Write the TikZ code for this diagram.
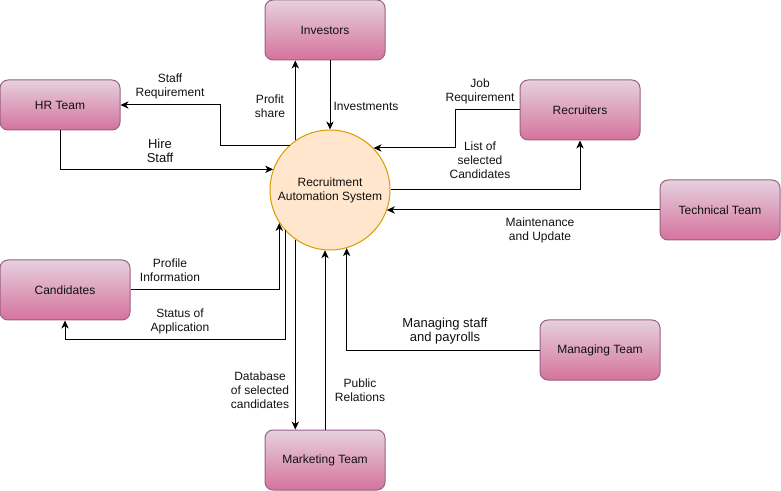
\documentclass[tikz,border=0pt]{standalone}
\usepackage{fontspec}
\setmainfont{Liberation Sans}
\usetikzlibrary{arrows.meta}
\definecolor{boxfill}{HTML}{E6D0DE}
\definecolor{boxgrad}{HTML}{D5739D}
\definecolor{boxline}{HTML}{996185}
\definecolor{sysfill}{HTML}{FFE6CC}
\definecolor{sysline}{HTML}{D79B00}
\definecolor{txt}{HTML}{111111}
\begin{document}
\begin{tikzpicture}[x=0.75pt,y=-0.75pt,
  ent/.style={draw=boxline, line width=0.75pt, rounded corners=6pt,
    top color=boxfill, bottom color=boxgrad, minimum width=90pt,
    minimum height=45pt, inner sep=0pt, text=txt,
    font=\fontsize{9}{10.5}\selectfont},
  sysnode/.style={circle, draw=sysline, fill=sysfill, line width=0.75pt,
    minimum size=90pt, inner sep=0pt, align=center, text=txt,
    font=\fontsize{9}{10.5}\selectfont},
  flow/.style={draw, line width=0.75pt,
    -{Stealth[length=6pt,width=5.5pt,inset=1.8pt]}},
  lbl/.style={align=center, inner sep=0pt, text=txt,
    font=\fontsize{9}{10.5}\selectfont},
  biglbl/.style={lbl, font=\fontsize{9.75}{11}\selectfont}]
\useasboundingbox (0,0) rectangle (781,491);

\node[ent] (inv) at (325,30) {Investors};
\node[ent, minimum height=37.5pt] (hr) at (60,105) {HR Team};
\node[ent] (rec) at (580,110) {Recruiters};
\node[ent] (tech) at (720,210) {Technical Team};
\node[ent, minimum width=97.5pt] (cand) at (65,290) {Candidates};
\node[ent] (man) at (600,350) {Managing Team};
\node[ent] (mkt) at (325,460) {Marketing Team};
\node[sysnode] (sys) at (330,190) {Recruitment\\Automation System};

% connectors
\draw[flow] (sys.125.7) -- (sys.125.7 |- inv.south);
\draw[flow] (sys.north |- inv.south) -- (sys.north);
\draw[flow] (sys.132.8) -- ++(-69,0) |- (hr.east);
\draw[flow] (hr.south) |- (sys.160.5);
\draw[flow] (rec.west) -- ++(-64,0) |- (sys.44.5);
\draw[flow] (sys.east) -| (rec.south);
\draw[flow] (tech.west) -- (tech.west -| sys.340.5);
\draw[flow] (cand.east) -| (sys.213.6);
\draw[flow] (sys.222.8) -- ++(0,109) -| (cand.south);
\draw[flow] (sys.235.5) -- (sys.235.5 |- mkt.north);
\draw[flow] (mkt.north) -- (mkt.north |- sys.265.2);
\draw[flow] (man.west) -| (sys.286.5);

% labels
\node[lbl] (l1) at (170,86) {Staff\\Requirement};
\node[lbl] (l2) at (270,106) {Profit\\share};
\node[lbl] (l3) at (366,106) {Investments};
\node[biglbl] (l4) at (160,151) {Hire\\Staff};
\node[lbl] (l5) at (480,91) {Job\\Requirement};
\node[lbl] (l6) at (480,160.7) {List of\\selected\\Candidates};
\node[lbl] (l7) at (540,230) {Maintenance\\and Update};
\node[lbl] (l8) at (170,270.7) {Profile\\Information};
\node[lbl] (l9) at (180,321) {Status of\\Application};
\node[biglbl] (l10) at (445,331) {Managing staff\\and payrolls};
\node[lbl] (l11) at (260,390.7) {Database\\of selected\\candidates};
\node[lbl] (l12) at (360,390.7) {Public\\Relations};
\end{tikzpicture}
\end{document}
